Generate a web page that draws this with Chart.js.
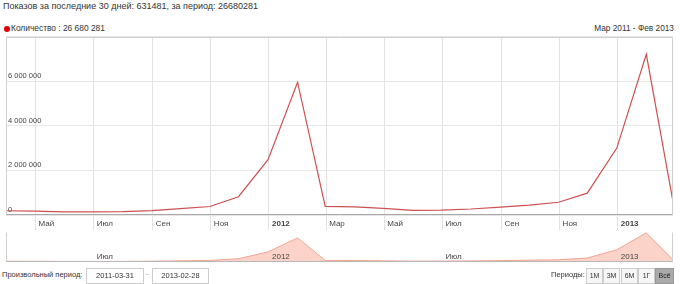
<!DOCTYPE html>
<html>
<head>
<meta charset="utf-8">
<script src="https://cdn.jsdelivr.net/npm/chart.js@4.4.1/dist/chart.umd.min.js"></script>
<style>
body { margin: 0; width: 680px; height: 284px; position: relative; overflow: hidden; background: #fff;
       font-family: "Liberation Sans", Arial, sans-serif; color: #333; }
.abs { position: absolute; white-space: nowrap; }
#title { left: 3px; top: 1px; font-size: 9px; }
#legend { left: 4px; top: 23px; font-size: 8.4px; color: #333; }
#legend .dot { display: inline-block; width: 6px; height: 6px; border-radius: 50%; background: #e00000; margin-right: 1px; vertical-align: -0.5px; }
#range { right: 6px; top: 23px; font-size: 8.3px; color: #333; }
#mainWrap { left: 0; top: 30px; width: 680px; height: 202px; }
#navWrap { left: 0; top: 231px; width: 680px; height: 31px; }
#custom { left: 2px; top: 270px; font-size: 7.5px; color: #333; }
.box { position: absolute; top: 268px; height: 14px; border: 1px solid #ccc; font-size: 7.5px; line-height: 14px; text-align: center; color: #333; background: #fff; }
#dash { left: 146px; top: 269px; font-size: 8px; color: #999; }
#periods { left: 551px; top: 270px; font-size: 7.5px; color: #333; }
.btn { position: absolute; top: 268px; height: 14px; border: 1px solid #ccc; font-size: 7px; line-height: 14px; text-align: center; color: #333; background: #f6f6f6; }
.btn.on { background: #aaa; border-color: #999; color: #222; }
</style>
</head>
<body>
<div id="title" class="abs">Показов за последние 30 дней: 631481, за период: 26680281</div>
<div id="legend" class="abs"><span class="dot"></span>Количество : 26 680 281</div>
<div id="range" class="abs">Мар 2011 - Фев 2013</div>
<div id="mainWrap" class="abs"><canvas id="mainChart"></canvas></div>
<div id="navWrap" class="abs"><canvas id="navChart"></canvas></div>
<div id="custom" class="abs">Произвольный период:</div>
<div class="box" style="left:86px;width:56px">2011-03-31</div>
<div id="dash" class="abs">-</div>
<div class="box" style="left:152px;width:55px">2013-02-28</div>
<div id="periods" class="abs">Периоды:</div>
<div class="btn" style="left:586px;width:15px">1М</div>
<div class="btn" style="left:603px;width:15px">3М</div>
<div class="btn" style="left:621px;width:15px">6М</div>
<div class="btn" style="left:638px;width:15px">1Г</div>
<div class="btn on" style="left:655px;width:17px">Всё</div>
<script>
// monthly totals, one point per month end
const dates = ['2011-03-31', '2011-04-30', '2011-05-31', '2011-06-30', '2011-07-31', '2011-08-31',
  '2011-09-30', '2011-10-31', '2011-11-30', '2011-12-31', '2012-01-31', '2012-02-29',
  '2012-03-31', '2012-04-30', '2012-05-31', '2012-06-30', '2012-07-31', '2012-08-31',
  '2012-09-30', '2012-10-31', '2012-11-30', '2012-12-31', '2013-01-31', '2013-02-28'];
const views = [190000, 170000, 140000, 140000, 150000, 200000,
  290000, 380000, 820000, 2480000, 5950000, 390000,
  360000, 300000, 210000, 220000, 270000, 350000,
  440000, 570000, 980000, 3000000, 7200000, 600000];

const tickDates = ['2011-05-01', '2011-07-01', '2011-09-01', '2011-11-01', '2012-01-01', '2012-03-01',
  '2012-05-01', '2012-07-01', '2012-09-01', '2012-11-01', '2013-01-01'];
const tickNames = ['Май', 'Июл', 'Сен', 'Ноя', '2012', 'Мар', 'Май', 'Июл', 'Сен', 'Ноя', '2013'];
const navTickDates = ['2011-07-01', '2012-01-01', '2012-07-01', '2013-01-01'];
const navTickNames = ['Июл', '2012', 'Июл', '2013'];
const yTicks = [0, 2000000, 4000000, 6000000, 8000000];

const start = Date.parse(dates[0]);
const day = s => (Date.parse(s) - start) / 864e5;
const points = dates.map((d, i) => ({ x: day(d), y: views[i] }));
const lastDay = day(dates[dates.length - 1]);
const spaced = v => String(v).replace(/\B(?=(\d{3})+(?!\d))/g, ' ');
const FONT = '"Liberation Sans", Arial, sans-serif';

const frame = {
  id: 'frame',
  afterDraw(chart, args, opts) {
    const { ctx, chartArea: a } = chart;
    const l = Math.round(a.left) + 0.5, r = Math.round(a.right) - 0.5;
    const t = Math.round(a.top) + 0.5, b = Math.round(a.bottom) - 0.5;
    ctx.save();
    ctx.lineWidth = 1;
    ctx.strokeStyle = opts.side;
    ctx.beginPath();
    if (opts.top) { ctx.moveTo(l, t); ctx.lineTo(r, t); }
    ctx.moveTo(l, t); ctx.lineTo(l, b);
    ctx.moveTo(r, t); ctx.lineTo(r, b);
    ctx.stroke();
    ctx.strokeStyle = opts.bottom;
    ctx.beginPath();
    ctx.moveTo(l, b); ctx.lineTo(r, b);
    ctx.stroke();
    ctx.restore();
  }
};

new Chart(document.getElementById('mainChart'), {
  type: 'line',
  data: {
    datasets: [{
      data: points,
      borderColor: '#cd5050',
      borderWidth: 1.2,
      pointRadius: 0,
      tension: 0,
      fill: false
    }]
  },
  options: {
    responsive: true,
    maintainAspectRatio: false,
    animation: false,
    layout: { padding: { top: 4, left: 6, right: 7, bottom: 1 } },
    plugins: {
      legend: { display: false },
      tooltip: { enabled: false },
      frame: { side: '#d0d0d0', bottom: '#a8a8a8', top: true }
    },
    scales: {
      x: {
        type: 'linear',
        min: 0,
        max: lastDay,
        afterBuildTicks: s => { s.ticks = tickDates.map(d => ({ value: day(d) })); },
        afterFit: s => { s.height = 16; },
        grid: { color: '#e2e2e2', tickColor: '#e2e2e2', tickLength: 15 },
        border: { display: false },
        ticks: {
          autoSkip: false,
          maxRotation: 0,
          align: 'start',
          labelOffset: 3,
          padding: -11,
          color: '#444',
          font: c => ({ family: FONT, size: 8, weight: /^\d+$/.test(c.tick && c.tick.label) ? 'bold' : 'normal' }),
          callback: (v, i) => tickNames[i]
        }
      },
      y: {
        min: 0,
        max: 8000000,
        afterBuildTicks: s => { s.ticks = yTicks.map(v => ({ value: v })); },
        afterFit: s => { s.width = 0; },
        grid: { color: '#e6e6e6', drawTicks: false },
        border: { display: false },
        ticks: {
          mirror: true,
          padding: 2,
          labelOffset: -5,
          color: '#444',
          font: { family: FONT, size: 7.5 },
          callback: v => v === 8000000 ? '' : spaced(v)
        }
      }
    }
  },
  plugins: [frame]
});

new Chart(document.getElementById('navChart'), {
  type: 'line',
  data: {
    datasets: [{
      data: points,
      borderColor: '#f2a493',
      backgroundColor: '#fbd3c8',
      borderWidth: 1,
      pointRadius: 0,
      tension: 0,
      fill: 'origin'
    }]
  },
  options: {
    responsive: true,
    maintainAspectRatio: false,
    animation: false,
    layout: { padding: { top: 1, left: 6, right: 7, bottom: 0 } },
    plugins: {
      legend: { display: false },
      tooltip: { enabled: false },
      frame: { side: '#d0d0d0', bottom: '#b8b8b8', top: false }
    },
    scales: {
      x: {
        type: 'linear',
        min: 0,
        max: lastDay,
        afterBuildTicks: s => { s.ticks = navTickDates.map(d => ({ value: day(d) })); },
        afterFit: s => { s.height = 0; },
        grid: { display: false },
        border: { display: false },
        ticks: {
          z: 1,
          mirror: true,
          autoSkip: false,
          maxRotation: 0,
          align: 'start',
          labelOffset: 3,
          padding: 0,
          color: '#444',
          font: { family: FONT, size: 8 },
          callback: (v, i) => navTickNames[i]
        }
      },
      y: {
        display: false,
        min: 0,
        max: 7400000
      }
    }
  },
  plugins: [frame]
});
</script>
</body>
</html>
